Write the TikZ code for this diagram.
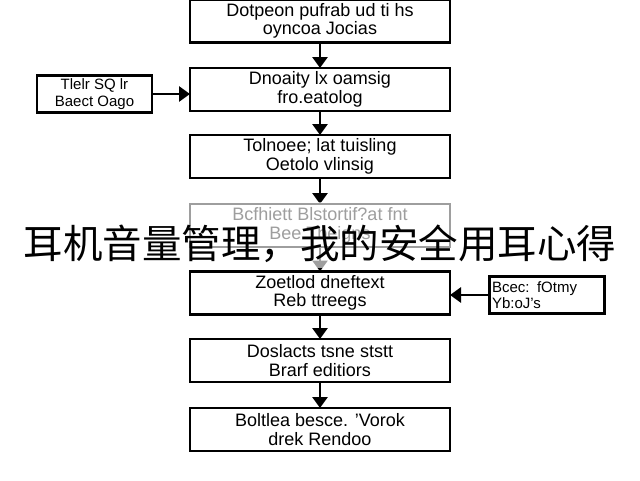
\documentclass[tikz,border=0pt]{standalone}
\usepackage{fontspec}
\setmainfont{Liberation Sans}
\newfontfamily\cjk{Noto Sans CJK SC}
\usetikzlibrary{arrows.meta}
\begin{document}
\begin{tikzpicture}[x=1pt,y=-1pt,
  stepbox/.style={draw=black,line width=2.6pt,minimum width=260pt,minimum height=43pt,
    inner sep=0pt,outer sep=0pt,align=center,font=\fontsize{18}{18.5}\selectfont},
  sidebox/.style={draw=black,line width=2.2pt,minimum width=115pt,minimum height=37pt,
    inner sep=0pt,outer sep=0pt,align=center,font=\fontsize{15}{16.5}\selectfont},
  arr/.style={line width=2.8pt,-{Triangle[length=11pt,width=15pt]}}]
\useasboundingbox (0,0) rectangle (640,480);
\fill[white] (0,0) rectangle (640,480);
\node[stepbox] (b1) at (320,21) {Dotpeon pufrab ud ti hs\\oyncoa Jocias};
\node[stepbox] (b2) at (320,89.5) {Dnoaity lx oamsig\\fro.eatolog};
\node[stepbox] (b3) at (320,156.5) {Tolnoee; lat tuisling\\Oetolo vlinsig};
\node[stepbox] (b4) at (320,225.5) {Bcfhiett Blstortif?at fnt\\Bee Tbeigns};
\node[stepbox] (b5) at (320,293) {Zoetlod dneftext\\Reb ttreegs};
\node[stepbox] (b6) at (320,360.5) {Doslacts tsne ststt\\Brarf editiors};
\node[stepbox] (b7) at (320,429.5) {Boltlea besce. 'Vorok\\drek Rendoo};
\node[sidebox] (l) at (94.5,94) {Tlelr SQ lr\\Baect Oago};
\node[sidebox,align=left,text width=110pt] (r) at (547,295) {Bcec: fOtmy\\Yb:oJ's};
\draw[arr] (b1) -- (b2);
\draw[arr] (b2) -- (b3);
\draw[arr] (b3) -- (b4);
\draw[arr] (b4) -- (b5);
\draw[arr] (b5) -- (b6);
\draw[arr] (b6) -- (b7);
\draw[arr] (l.east) -- (l.east -| b2.west);
\draw[arr] (r.west) -- (r.west -| b5.east);
\fill[white,opacity=0.62] (0,202) rectangle (640,268);
\node[font=\cjk\fontsize{39.5}{40}\selectfont,inner sep=0pt] (t) at (320,244) {耳机音量管理，我的安全用耳心得};
\end{tikzpicture}
\end{document}
